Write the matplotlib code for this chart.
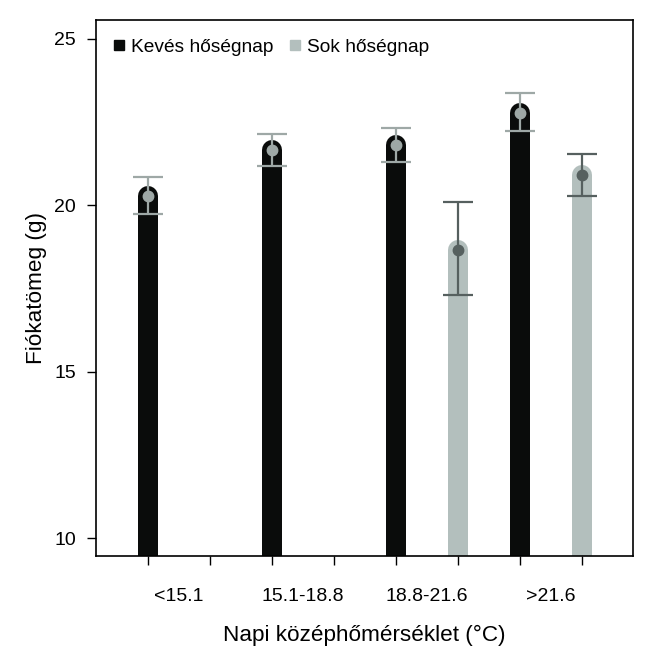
import numpy as np
import matplotlib
matplotlib.use("Agg")
import matplotlib.pyplot as plt
from matplotlib.lines import Line2D

plt.rcParams['font.family'] = ['Liberation Sans', 'DejaVu Sans']

categories = ['<15.1', '15.1-18.8', '18.8-21.6', '>21.6']
few_mean = [20.27, 21.65, 21.80, 22.78]
few_low = [19.74, 21.17, 21.30, 22.23]
few_high = [20.85, 22.13, 22.32, 23.39]
many_mean = [np.nan, np.nan, 18.67, 20.90]
many_low = [np.nan, np.nan, 17.30, 20.28]
many_high = [np.nan, np.nan, 20.09, 21.54]
series_labels = ['Kevés hőségnap', 'Sok hőségnap']

black = '#0a0c0b'
grey = '#b3bfbd'
pt_light = '#9ea8a6'
pt_dark = '#56605f'

fig = plt.figure(figsize=(6.53, 6.53), dpi=100)
ax = fig.add_axes([0.147, 0.1485, 0.8224, 0.8209])
ymin, ymax = 9.46, 25.57
ax.set_ylim(ymin, ymax)
ax.set_xlim(0.167, 8.82)

bar_lw = 14.4  # points (20 px)

def draw(xs, means, lows, highs, barc, ptc):
    for x, m, lo, hi in zip(xs, means, lows, highs):
        if np.isnan(m):
            continue
        ax.plot([x, x], [ymin - 5, m], color=barc, lw=bar_lw,
                solid_capstyle='round', zorder=2)
        ax.errorbar([x], [m], yerr=[[m - lo], [hi - m]], fmt='none',
                    ecolor=ptc, elinewidth=1.6, capsize=10.8, capthick=1.6, zorder=3)
        ax.plot([x], [m], marker='o', ms=7.5, color=ptc, mec=ptc, zorder=4)

n = len(categories)
x_few = [2 * i + 1 for i in range(n)]
x_many = [2 * i + 2 for i in range(n)]
draw(x_few, few_mean, few_low, few_high, black, pt_light)
draw(x_many, many_mean, many_low, many_high, grey, pt_dark)

ax.set_xticks(list(range(1, 2 * n + 1)))
ax.set_xticklabels([''] * (2 * n))
ax.set_xticks([2 * i + 1.5 for i in range(n)], minor=True)
ax.set_xticklabels(categories, minor=True, fontsize=14)
ax.tick_params(axis='x', which='minor', length=0, pad=23)
ax.tick_params(axis='both', which='major', length=6.5, width=1, direction='out', labelsize=14)
ax.set_yticks([10, 15, 20, 25])
ax.tick_params(axis='y', pad=8)

for s in ax.spines.values():
    s.set_linewidth(1.2)

ax.set_xlabel('Napi középhőmérséklet (°C)', fontsize=16.2, labelpad=14)
ax.set_ylabel('Fiókatömeg (g)', fontsize=16.2, labelpad=5)

handles = [Line2D([], [], marker='s', ls='none', color=black, ms=6.5),
           Line2D([], [], marker='s', ls='none', color=grey, ms=6.5)]
ax.legend(handles, series_labels, loc='upper left', ncol=2, frameon=False,
          fontsize=13.8, handletextpad=0.15, columnspacing=0.6, handlelength=1.0,
          bbox_to_anchor=(0.0, 0.99), borderaxespad=0.3)

fig.savefig('out.png', dpi=100)
